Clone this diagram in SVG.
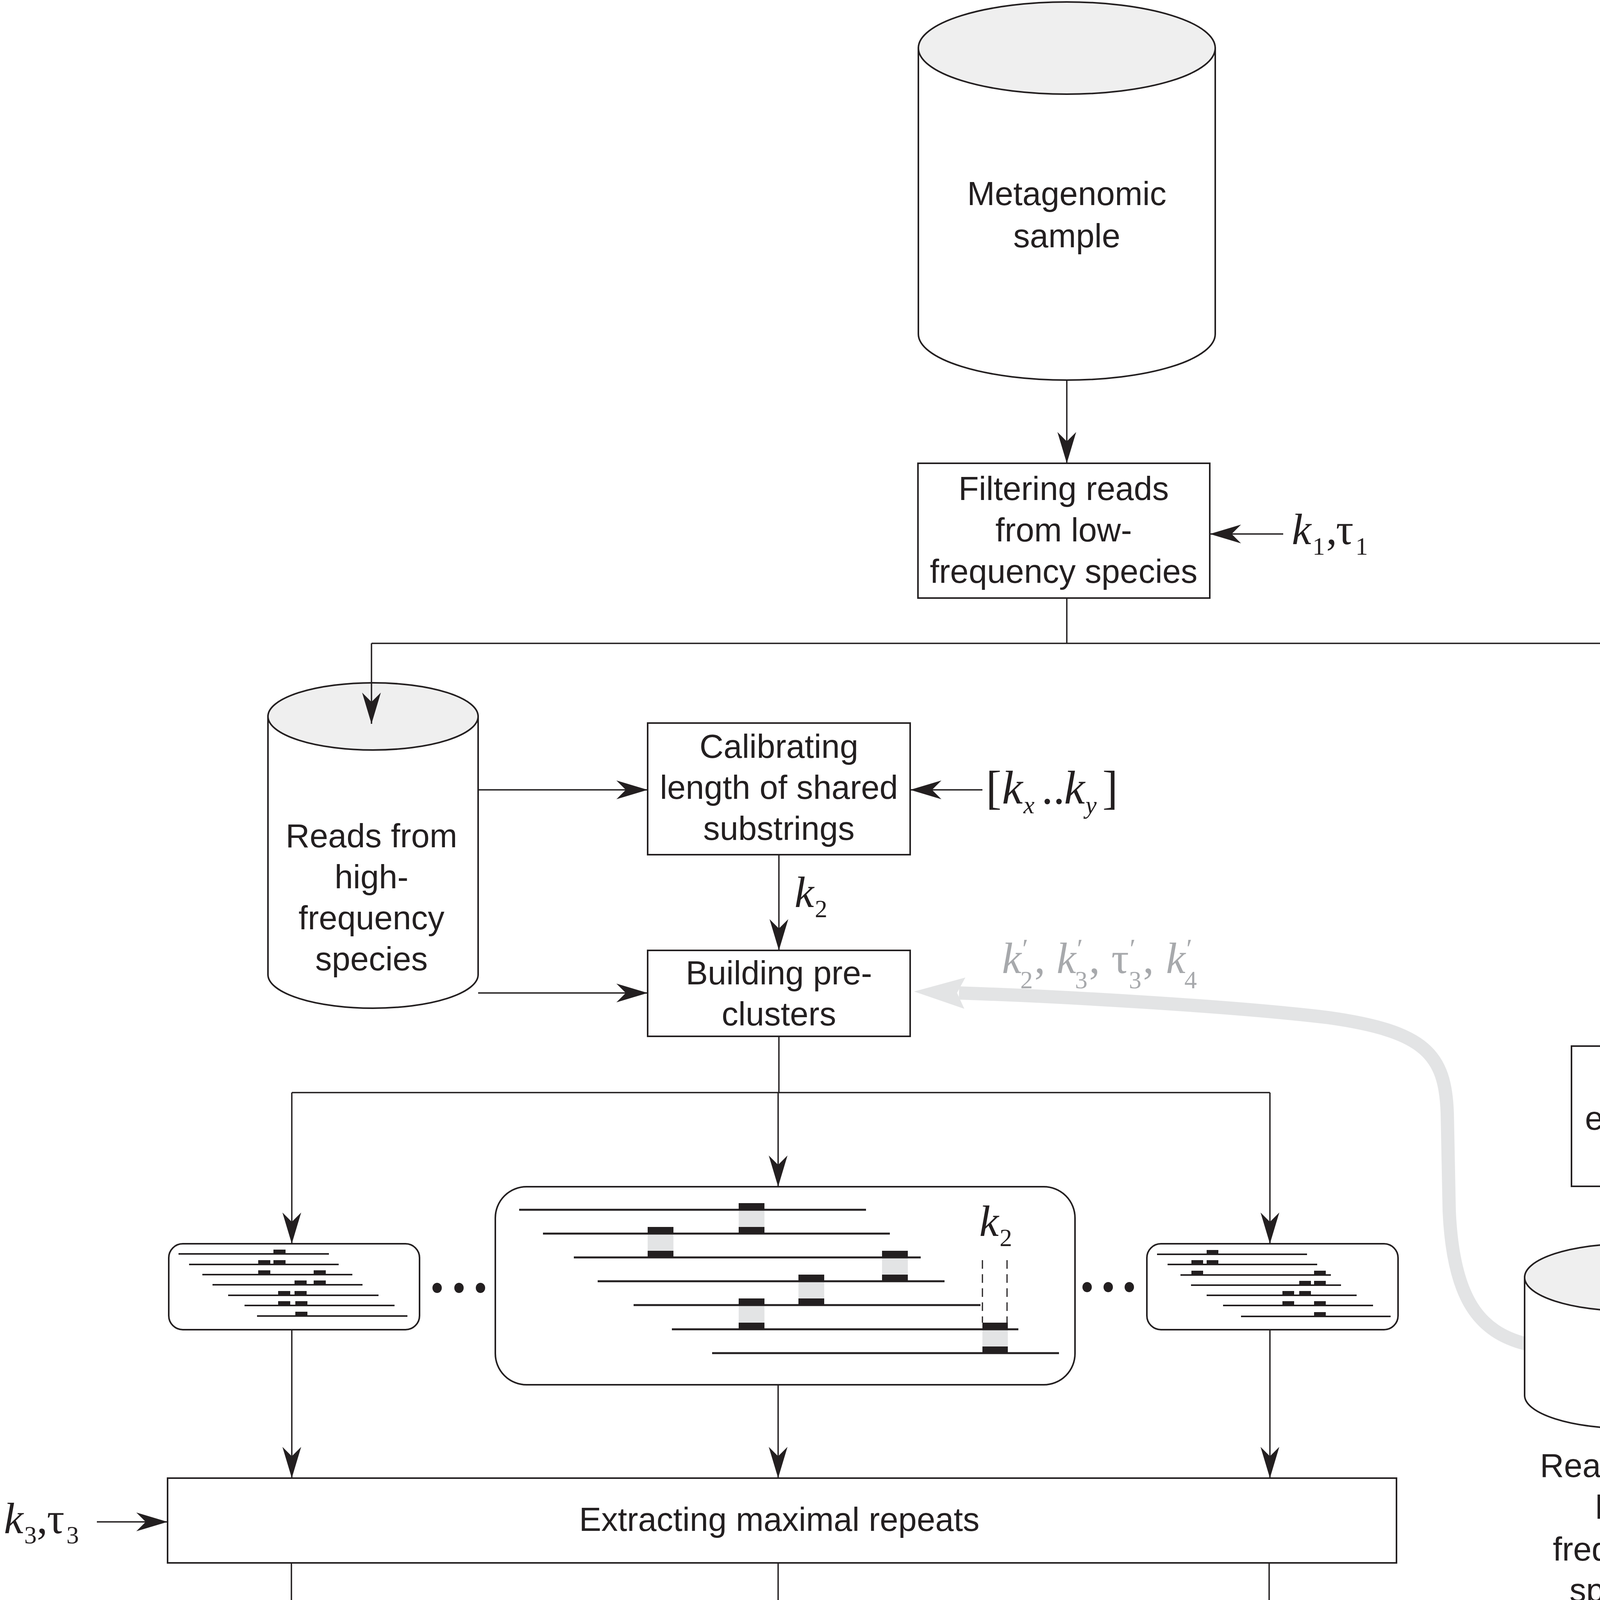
<svg xmlns="http://www.w3.org/2000/svg" width="5507" height="7709" viewBox="0 0 5507 7709">
<defs>
<style>
.b{fill:#fff;stroke:#231f20;stroke-width:4}
.cy{fill:#fff;stroke:#231f20;stroke-width:4}
.ct{fill:#efefef;stroke:#231f20;stroke-width:4}
.t{font-family:"Liberation Sans",Arial,sans-serif;font-size:85px;fill:#231f20;text-anchor:middle}
.tl{font-family:"Liberation Sans",Arial,sans-serif;font-size:85px;fill:#231f20}
.m{font-family:"Liberation Serif","Times New Roman",serif;font-size:112px;fill:#231f20}
.i{font-style:italic}
.s{font-size:64px}
.p{font-size:70px}
.c{fill:none;stroke:#231f20;stroke-width:3.5}
.a{marker-end:url(#ah)}
.rd{fill:none;stroke:#231f20;stroke-width:4}
.rd2{fill:none;stroke:#231f20;stroke-width:5}
.bk{fill:#231f20}
.gy{fill:#e3e4e5}
.grid{fill:none;stroke:#8c8c8c;stroke-width:2.5;stroke-dasharray:2 7}
.hex{fill:none;stroke:#3a3a3a;stroke-width:3}
.dash{fill:none;stroke:#231f20;stroke-width:3;stroke-dasharray:22 14}
</style>
<marker id="ah" markerUnits="userSpaceOnUse" viewBox="-90 -30 95 60" markerWidth="95" markerHeight="60" refX="0" refY="0" orient="auto">
<path d="M0,0 L-80,-24 L-56,0 L-80,24 Z" fill="#231f20"/>
</marker>
<marker id="gah" markerUnits="userSpaceOnUse" viewBox="-25 -45 150 90" markerWidth="150" markerHeight="90" refX="0" refY="0" orient="auto">
<path d="M-15,-40 L115,0 L-15,40 L5,0 Z" fill="#e3e4e5"/>
</marker>
</defs>
<rect width="5507" height="7709" fill="#fff"/>

<g id="feedback">
<path d="M3905 3440 C3790 3410 3720 3330 3710 3100 L3705 2850 C3700 2700 3650 2640 3400 2605 C3150 2575 2700 2550 2455 2542" fill="none" stroke="#e3e4e5" stroke-width="34" marker-end="url(#gah)"/>
</g>

<g id="metagenomic-sample">
<path class="cy" d="M2351 123 L2351 855 A380 118 0 0 0 3111 855 L3111 123 Z"/>
<ellipse class="ct" cx="2731" cy="123" rx="380" ry="118"/>
<text class="t" x="2731" y="525">Metagenomic</text>
<text class="t" x="2731" y="633">sample</text>
</g>

<g id="filter1">
<rect class="b" x="2350" y="1186" width="747" height="345"/>
<text class="t" x="2723" y="1280">Filtering reads</text>
<text class="t" x="2723" y="1386">from low-</text>
<text class="t" x="2723" y="1492">frequency species</text>
</g>
<g id="param-k1t1">
<text class="m"><tspan class="i" x="3307" y="1393">k</tspan><tspan class="s" x="3360" y="1420">1</tspan><tspan x="3395" y="1393">,</tspan><tspan x="3420" y="1393">τ</tspan><tspan class="s" x="3470" y="1420">1</tspan></text>
</g>

<g id="high-freq">
<path class="cy" d="M686 1834 L686 2495 A269 86 0 0 0 1224 2495 L1224 1834 Z"/>
<ellipse class="ct" cx="955" cy="1834" rx="269" ry="86"/>
<text class="t" x="951" y="2169">Reads from</text>
<text class="t" x="951" y="2274">high-</text>
<text class="t" x="951" y="2379">frequency</text>
<text class="t" x="951" y="2484">species</text>
</g>

<g id="calibrating">
<rect class="b" x="1658" y="1851" width="672" height="337"/>
<text class="t" x="1994" y="1940">Calibrating</text>
<text class="t" x="1994" y="2045">length of shared</text>
<text class="t" x="1994" y="2150">substrings</text>
</g>
<g id="param-kxky">
<text class="m" style="font-size:120px"><tspan x="2524" y="2057">[</tspan><tspan class="i" x="2565" y="2057">k</tspan><tspan class="i s" x="2620" y="2082">x</tspan><tspan x="2666" y="2057">..</tspan><tspan class="i" x="2724" y="2057">k</tspan><tspan class="i s" x="2779" y="2082">y</tspan><tspan x="2822" y="2057">]</tspan></text>
</g>
<g id="param-k2">
<text class="m"><tspan class="i" x="2034" y="2322">k</tspan><tspan class="s" x="2086" y="2348">2</tspan></text>
</g>

<g id="building">
<rect class="b" x="1658" y="2433" width="672" height="220"/>
<text class="t" x="1994" y="2520">Building pre-</text>
<text class="t" x="1994" y="2625">clusters</text>
</g>
<g id="param-feedback">
<text class="m" style="fill:#a7a9ac"><tspan class="i" x="2565" y="2491">k</tspan><tspan class="p" x="2617" y="2452">′</tspan><tspan class="s" x="2612" y="2530">2</tspan><tspan x="2648" y="2491">,</tspan><tspan class="i" x="2705" y="2491">k</tspan><tspan class="p" x="2757" y="2452">′</tspan><tspan class="s" x="2752" y="2530">3</tspan><tspan x="2788" y="2491">,</tspan><tspan x="2845" y="2491">τ</tspan><tspan class="p" x="2892" y="2452">′</tspan><tspan class="s" x="2890" y="2530">3</tspan><tspan x="2926" y="2491">,</tspan><tspan class="i" x="2985" y="2491">k</tspan><tspan class="p" x="3037" y="2452">′</tspan><tspan class="s" x="3032" y="2530">4</tspan></text>
</g>

<g id="low-and-extremely-low">
<path class="cy" d="M4242 1834 L4242 2350 A268 84 0 0 0 4778 2350 L4778 1834 Z"/>
<ellipse class="ct" cx="4510" cy="1834" rx="268" ry="85"/>
<text class="tl" x="4822" y="1974">Reads from low-</text>
<text class="tl" x="4822" y="2080">frequency and</text>
<text class="tl" x="4822" y="2186">extremely low-</text>
<text class="tl" x="4822" y="2292">frequency species</text>
</g>

<g id="filter2">
<rect class="b" x="4023" y="2678" width="991" height="359"/>
<text class="t" x="4518" y="2786">Filtering reads from</text>
<text class="t" x="4518" y="2892">extremely low-frequency</text>
<text class="t" x="4518" y="2998">species</text>
</g>
<g id="param-k1-2">
<text class="m"><tspan class="i" x="5222" y="2901">k</tspan><tspan class="s" x="5274" y="2926">1</tspan><tspan x="5306" y="2901">, 2</tspan></text>
</g>

<g id="low-freq">
<path class="cy" d="M3903 3270 L3903 3572 A266 85 0 0 0 4435 3572 L4435 3270 Z"/>
<ellipse class="ct" cx="4169" cy="3270" rx="266" ry="86"/>
<text class="t" x="4162" y="3781">Reads from</text>
<text class="t" x="4162" y="3888">low-</text>
<text class="t" x="4162" y="3995">frequency</text>
<text class="t" x="4162" y="4100">species</text>
</g>

<g id="extremely-low-freq">
<path class="cy" d="M4606 3489 L4606 3578 A266 87 0 0 0 5138 3578 L5138 3489 Z"/>
<ellipse class="ct" cx="4872" cy="3489" rx="266" ry="87"/>
<text class="t" x="4878" y="3781">Reads from</text>
<text class="t" x="4878" y="3888">extremely low-</text>
<text class="t" x="4878" y="3995">frequency species</text>
<text class="t" x="4878" y="4100">and reads with</text>
<text class="t" x="4878" y="4206">many errors</text>
</g>

<g id="precluster-left">
<rect class="b" x="432" y="3184" width="642" height="220" rx="36"/>
<path class="rd" d="M457 3210H842M484 3237H867M518 3263H902M544 3289H928M584 3316H969M626 3342H1010M658 3369H1043"/>
<path class="bk" d="M700 3199h31v12h-31zM661 3226h31v12h-31zM700 3226h31v12h-31zM661 3252h31v12h-31zM803 3252h31v12h-31zM754 3278h31v12h-31zM803 3278h31v12h-31zM712 3305h31v12h-31zM754 3305h31v12h-31zM712 3331h31v12h-31zM756 3331h31v12h-31zM756 3358h31v12h-31z"/>
</g>
<g id="dots-1a"><ellipse cx="1119" cy="3297" rx="12" ry="13" class="bk"/><ellipse cx="1175" cy="3297" rx="12" ry="13" class="bk"/><ellipse cx="1230" cy="3297" rx="12" ry="13" class="bk"/></g>

<g id="precluster-main">
<rect class="b" x="1268" y="3038" width="1484" height="507" rx="80"/>
<path class="gy" d="M1891 3097h66v44h-66zM1658 3158h66v44h-66zM2258 3219h66v44h-66zM2044 3280h66v44h-66zM1891 3341h66v45h-66zM2515 3403h65v44h-65z"/>
<path class="rd2" d="M1329 3097H2217M1390 3158H2278M1469 3219H2357M1530 3280H2418M1622 3341H2510M1720 3403H2607M1823 3464H2711"/>
<path class="bk" d="M1891 3080h66v19h-66zM1891 3141h66v19h-66zM1658 3141h66v19h-66zM1658 3202h66v19h-66zM2258 3202h66v19h-66zM2258 3263h66v19h-66zM2044 3263h66v19h-66zM2044 3324h66v19h-66zM1891 3324h66v19h-66zM1891 3386h66v19h-66zM2515 3386h65v19h-65zM2515 3447h65v19h-65z"/>
<path class="dash" d="M2515 3226V3386M2578 3226V3386"/>
<text class="m"><tspan class="i" x="2507" y="3164">k</tspan><tspan class="s" x="2559" y="3190">2</tspan></text>
</g>
<g id="dots-1b"><ellipse cx="2783" cy="3295" rx="12" ry="13" class="bk"/><ellipse cx="2837" cy="3295" rx="12" ry="13" class="bk"/><ellipse cx="2891" cy="3295" rx="12" ry="13" class="bk"/></g>

<g id="precluster-right">
<rect class="b" x="2936" y="3184" width="643" height="220" rx="36"/>
<path class="rd" d="M2962 3211H3346M2989 3237H3372M3022 3264H3407M3049 3290H3433M3089 3316H3473M3131 3342H3515M3177 3370H3560"/>
<path class="bk" d="M3089 3200h30v12h-30zM3050 3226h30v12h-30zM3089 3226h30v12h-30zM3050 3253h30v12h-30zM3364 3253h30v12h-30zM3326 3279h30v12h-30zM3364 3279h30v12h-30zM3283 3305h30v12h-30zM3326 3305h30v12h-30zM3283 3331h30v12h-30zM3364 3331h30v12h-30zM3364 3359h30v12h-30z"/>
</g>

<g id="extracting">
<rect class="b" x="429" y="3784" width="3146" height="217"/>
<text class="t" x="1995" y="3919">Extracting maximal repeats</text>
</g>
<g id="param-k3t3">
<text class="m"><tspan class="i" x="10" y="3925">k</tspan><tspan class="s" x="62" y="3951">3</tspan><tspan x="94" y="3925">,</tspan><tspan x="120" y="3925">τ</tspan><tspan class="s" x="170" y="3951">3</tspan></text>
</g>

<g id="repeats-left">
<rect class="b" x="435" y="4383" width="642" height="220" rx="36"/>
<path class="rd" d="M460 4409H845M486 4435H871M521 4462H905M548 4488H932M588 4515H972M630 4541H1014M663 4567H1047"/>
<path class="bk" d="M663 4398h179v12h-179zM663 4424h179v12h-179zM663 4451h179v12h-179zM663 4477h179v12h-179zM663 4504h179v12h-179zM663 4530h179v12h-179zM663 4556h179v12h-179z"/>
</g>
<g id="dots-2a"><ellipse cx="1119" cy="4495" rx="12" ry="13" class="bk"/><ellipse cx="1175" cy="4495" rx="12" ry="13" class="bk"/><ellipse cx="1230" cy="4495" rx="12" ry="13" class="bk"/></g>

<g id="repeats-main">
<rect class="b" x="1265" y="4248" width="1485" height="508" rx="80"/>
<path class="gy" d="M1633 4289h178v263h-178zM1839 4289h368v386h-368z"/>
<path class="rd" d="M1324 4308H2214M1386 4369H2276M1466 4431H2355M1527 4492H2416M1619 4552H2508M1723 4614H2612M1819 4675H2709"/>
<path class="bk" d="M1633 4289h178v21h-178zM1633 4350h178v21h-178zM1633 4412h178v21h-178zM1633 4473h178v21h-178zM1633 4533h178v21h-178zM1839 4289h368v21h-368zM1839 4350h368v21h-368zM1839 4412h368v21h-368zM1839 4473h368v21h-368zM1839 4533h368v21h-368zM1839 4595h368v21h-368zM1839 4656h368v21h-368z"/>
<path class="dash" d="M1633 4167V4274M1811 4167V4274"/>
<text class="m"><tspan class="i" x="1690" y="4204">k</tspan><tspan class="s" x="1742" y="4230">3</tspan></text>
<path fill="none" stroke="#231f20" stroke-width="3.5" d="M2544 4287 Q2565 4287 2565 4310 L2565 4404 Q2565 4426 2587 4426 Q2565 4426 2565 4448 L2565 4543 Q2565 4566 2544 4566"/>
<text class="m"><tspan x="2617" y="4457">τ</tspan><tspan class="s" x="2668" y="4482">3</tspan></text>
</g>
<g id="dots-2b"><ellipse cx="2789" cy="4494" rx="12" ry="13" class="bk"/><ellipse cx="2843" cy="4494" rx="12" ry="13" class="bk"/><ellipse cx="2899" cy="4494" rx="12" ry="13" class="bk"/></g>

<g id="repeats-right">
<rect class="b" x="2939" y="4383" width="643" height="220" rx="36"/>
<path class="rd" d="M2966 4409H3349M2992 4435H3376M3027 4462H3410M3052 4488H3437M3092 4515H3476M3135 4541H3519M3180 4567H3564"/>
<path class="bk" d="M3053 4398h114v12h-114zM3053 4424h114v12h-114zM3053 4451h114v12h-114zM3285 4451h113v12h-113zM3285 4477h113v12h-113zM3285 4504h113v12h-113zM3285 4530h113v12h-113zM3285 4556h113v12h-113z"/>
</g>

<g id="computing">
<rect class="b" x="429" y="5011" width="3146" height="240"/>
<text class="t" x="1995" y="5160">Computing <tspan class="i">k</tspan>-mer composition of maximal repeats</text>
</g>
<g id="param-k4">
<text class="m"><tspan class="i" x="133" y="5165">k</tspan><tspan class="s" x="185" y="5191">4</tspan></text>
</g>

<g id="kmer-space">
<path class="grid" d="M1916 5542V6304M1843 5591V6353M1769 5639V6401M1695 5687V6449M1622 5736V6498M1548 5784V6546M1474 5832V6594M1400 5880V6642M1327 5929V6691
M1990 5570L1253 6053M1990 5646L1253 6129M1990 5723L1253 6206M1990 5799L1253 6282M1990 5875L1253 6358M1990 5951L1253 6434M1990 6027L1253 6510M1990 6104L1253 6587M1990 6180L1253 6663
M2064 5542V6304M2137 5591V6353M2211 5639V6401M2285 5687V6449M2359 5736V6498M2432 5784V6546M2506 5832V6594M2580 5880V6642M2653 5929V6691
M1990 5570L2727 6053M1990 5646L2727 6129M1990 5723L2727 6206M1990 5799L2727 6282M1990 5875L2727 6358M1990 5951L2727 6434M1990 6027L2727 6510M1990 6104L2727 6587M1990 6180L2727 6663
M2064 6304L1327 6787M2137 6353L1400 6836M2211 6401L1474 6884M2285 6449L1548 6932M2359 6498L1622 6981M2432 6546L1695 7029M2506 6594L1769 7077M2580 6642L1843 7125M2653 6691L1916 7174
M1916 6304L2653 6787M1843 6353L2580 6836M1769 6401L2506 6884M1695 6449L2432 6932M1622 6498L2359 6981M1548 6546L2285 7029M1474 6594L2211 7077M1400 6642L2137 7125M1327 6691L2064 7174"/>
<path class="hex" d="M1990 5494L2727 5977L2727 6739L1990 7222L1253 6739L1253 5977Z M1990 5494V6256 M1990 6256L1253 6739 M1990 6256L2727 6739"/>
<g class="bk">
<circle cx="1958" cy="5792" r="20"/><circle cx="1907" cy="5838" r="20"/><circle cx="2004" cy="5838" r="20"/><circle cx="2068" cy="5832" r="20"/><circle cx="1944" cy="5900" r="20"/><circle cx="2004" cy="5900" r="20"/><circle cx="2060" cy="5892" r="20"/><circle cx="1944" cy="5959" r="20"/><circle cx="2040" cy="5948" r="20"/>
<circle cx="2001" cy="6058" r="20"/><circle cx="1759" cy="6082" r="20"/><circle cx="2224" cy="6106" r="20"/><circle cx="2303" cy="6261" r="20"/><circle cx="2004" cy="6326" r="20"/>
<circle cx="1619" cy="6243" r="20"/><circle cx="1564" cy="6284" r="20"/><circle cx="1619" cy="6299" r="20"/><circle cx="1668" cy="6280" r="20"/><circle cx="1538" cy="6339" r="20"/><circle cx="1619" cy="6353" r="20"/><circle cx="1677" cy="6342" r="20"/><circle cx="1578" cy="6385" r="20"/><circle cx="1672" cy="6397" r="20"/><circle cx="1736" cy="6390" r="20"/><circle cx="1619" cy="6421" r="20"/>
<circle cx="1827" cy="6490" r="20"/><circle cx="1828" cy="6656" r="20"/><circle cx="2154" cy="6672" r="20"/>
<circle cx="2309" cy="6468" r="20"/><circle cx="2371" cy="6509" r="20"/><circle cx="2248" cy="6533" r="20"/><circle cx="2310" cy="6528" r="20"/><circle cx="2353" cy="6571" r="20"/><circle cx="2280" cy="6588" r="20"/><circle cx="2341" cy="6626" r="20"/><circle cx="2292" cy="6651" r="20"/>
<circle cx="1888" cy="6769" r="20"/><circle cx="1950" cy="6818" r="20"/><circle cx="2010" cy="6825" r="20"/><circle cx="1912" cy="6880" r="20"/><circle cx="1967" cy="6880" r="20"/><circle cx="2029" cy="6880" r="20"/><circle cx="1931" cy="6946" r="20"/><circle cx="1981" cy="6933" r="20"/><circle cx="2029" cy="6940" r="20"/><circle cx="2078" cy="6933" r="20"/><circle cx="1993" cy="6992" r="20"/>
</g>
</g>

<g id="clustering">
<rect class="b" x="1770" y="7484" width="452" height="216"/>
<text class="t" x="1996" y="7624">Clustering</text>
</g>

<g id="connectors">
<path class="c a" d="M2731 975V1186"/>
<path class="c a" d="M3285 1367H3097"/>
<path class="c" d="M2731 1531V1647M951 1647H4515"/>
<path class="c a" d="M951 1647V1853"/>
<path class="c a" d="M4515 1647V1856"/>
<path class="c a" d="M1224 2022H1658"/>
<path class="c a" d="M2515 2022H2330"/>
<path class="c a" d="M1994 2188V2433"/>
<path class="c a" d="M1224 2542H1658"/>
<path class="c a" d="M4515 2434V2678"/>
<path class="c a" d="M5207 2859H5014"/>
<path class="c" d="M4518 3037V3127M4161 3127H4876"/>
<path class="c a" d="M4161 3127V3307"/>
<path class="c a" d="M4876 3127V3521"/>
<path class="c" d="M1994 2653V2797M747 2797H3251"/>
<path class="c a" d="M747 2797V3184"/>
<path class="c a" d="M1992 2797V3038"/>
<path class="c a" d="M3251 2797V3184"/>
<path class="c a" d="M747 3404V3784"/>
<path class="c a" d="M1992 3545V3784"/>
<path class="c a" d="M3251 3404V3784"/>
<path class="c a" d="M248 3896H429"/>
<path class="c a" d="M746 4001V4383"/>
<path class="c a" d="M1992 4001V4248"/>
<path class="c a" d="M3249 4001V4383"/>
<path class="c a" d="M746 4603V5011"/>
<path class="c a" d="M1992 4756V5011"/>
<path class="c a" d="M3249 4603V5011"/>
<path class="c a" d="M248 5136H429"/>
<path class="c a" d="M746 5251 C742 5720 960 5800 1542 6265"/>
<path class="c a" d="M1992 5251 L1992 5380 C1992 5450 2060 5480 2130 5530 C2220 5590 2260 5660 2200 5735 C2170 5770 2130 5795 2091 5816"/>
<path class="c a" d="M3249 5251 C3249 5500 3230 5650 3100 5760 C2950 5880 2600 6060 2322 6244"/>
<path class="c a" d="M1990 7222V7484"/>
</g>
</svg>
